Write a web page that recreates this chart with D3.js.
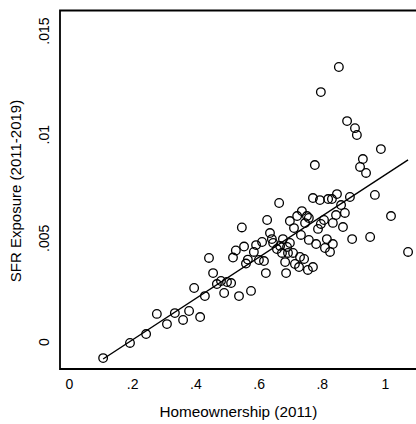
<!DOCTYPE html>
<html>
<head>
<meta charset="utf-8">
<script src="https://cdn.jsdelivr.net/npm/d3@7"></script>
<style>
  html, body { margin: 0; padding: 0; background: #fff; }
  svg { display: block; }
  text { font-family: "Liberation Sans", Arial, Helvetica, sans-serif; fill: #000; }
</style>
</head>
<body>
<script>
// Homeownership share (2011) per area
const homeownership = [
  0.108, 0.193, 0.244, 0.278, 0.310, 0.335, 0.361, 0.380, 0.415, 0.396,
  0.430, 0.443, 0.456, 0.468, 0.481, 0.500, 0.513, 0.491, 0.538, 0.576,
  0.547, 0.554, 0.528, 0.519, 0.566, 0.560, 0.592, 0.585, 0.611, 0.627,
  0.665, 0.636, 0.642, 0.601, 0.617, 0.623, 0.646, 0.658, 0.668, 0.677,
  0.699, 0.690, 0.709, 0.693, 0.674, 0.684, 0.715, 0.728, 0.731, 0.744,
  0.687, 0.756, 0.699, 0.712, 0.722, 0.737, 0.753, 0.759, 0.747, 0.734,
  0.759, 0.772, 0.794, 0.820, 0.832, 0.848, 0.889, 0.968, 0.861, 0.845,
  0.873, 1.019, 0.807, 0.797, 0.835, 0.788, 0.867, 0.782, 0.816, 0.835,
  0.896, 0.953, 0.810, 0.826, 1.073, 0.772, 0.854, 0.797, 0.880, 0.905,
  0.911, 0.987, 0.930, 0.921, 0.940, 0.778
];

// SFR exposure (2011-2019) per area
const sfrExposure = [
  -0.00080, -0.00007, 0.00036, 0.00133, 0.00084, 0.00137, 0.00104, 0.00147, 0.00118, 0.00258,
  0.00219, 0.00403, 0.00330, 0.00277, 0.00292, 0.00287, 0.00282, 0.00234, 0.00219, 0.00244,
  0.00550, 0.00458, 0.00439, 0.00405, 0.00395, 0.00376, 0.00465, 0.00432, 0.00480, 0.00586,
  0.00668, 0.00523, 0.00494, 0.00393, 0.00388, 0.00330, 0.00475, 0.00446, 0.00461, 0.00494,
  0.00475, 0.00456, 0.00427, 0.00427, 0.00427, 0.00383, 0.00374, 0.00359, 0.00408, 0.00398,
  0.00330, 0.00345, 0.00581, 0.00547, 0.00605, 0.00629, 0.00605, 0.00596, 0.00571, 0.00514,
  0.00490, 0.00692, 0.00682, 0.00687, 0.00687, 0.00711, 0.00697, 0.00707, 0.00658, 0.00610,
  0.00620, 0.00605, 0.00586, 0.00567, 0.00572, 0.00543, 0.00552, 0.00470, 0.00494, 0.00470,
  0.00494, 0.00504, 0.00451, 0.00432, 0.00432, 0.00359, 0.01324, 0.01203, 0.01063, 0.01029,
  0.00996, 0.00928, 0.00880, 0.00842, 0.00813, 0.00851
];

// Linear fit: intercept and slope
const fitIntercept = -0.00192;
const fitSlope = 0.00995;

const xTicks = [0, 0.2, 0.4, 0.6, 0.8, 1];
const xTickLabels = ["0", ".2", ".4", ".6", ".8", "1"];
const yTicks = [0, 0.005, 0.01, 0.015];
const yTickLabels = ["0", ".005", ".01", ".015"];

const W = 416, H = 424;
const frame = { left: 60, top: 10.5, right: 420, bottom: 369 };

const svg = d3.select("body").append("svg")
  .attr("width", W).attr("height", H);

const x = d3.scaleLinear().domain([0, 1]).range([69, 385]);
const y = d3.scaleLinear().domain([0, 0.015]).range([341.5, 30.5]);

const points = homeownership.map((h, i) => ({ x: h, y: sfrExposure[i] }));

// fitted line across the observed range
const xMin = d3.min(homeownership), xMax = d3.max(homeownership);
svg.append("line")
  .attr("x1", x(xMin)).attr("y1", y(fitIntercept + fitSlope * xMin))
  .attr("x2", x(xMax)).attr("y2", y(fitIntercept + fitSlope * xMax))
  .attr("stroke", "#000").attr("stroke-width", 1.4);

// hollow markers
svg.append("g").selectAll("circle")
  .data(points)
  .join("circle")
  .attr("cx", d => x(d.x))
  .attr("cy", d => y(d.y))
  .attr("r", 4.3)
  .attr("fill", "none")
  .attr("stroke", "#000")
  .attr("stroke-width", 1.3);

// plot frame (left, top and bottom edges; right edge lies past the canvas)
svg.append("path")
  .attr("d", `M${frame.right},${frame.top}H${frame.left}V${frame.bottom}H${frame.right}`)
  .attr("fill", "none").attr("stroke", "#000").attr("stroke-width", 1.8);

// x axis labels
const xAxis = d3.axisBottom(x).tickValues(xTicks)
  .tickFormat((d, i) => xTickLabels[i]).tickSize(0).tickPadding(0);
const gx = svg.append("g").attr("transform", `translate(0,${frame.bottom})`).call(xAxis);
gx.select(".domain").remove();
gx.selectAll("text")
  .attr("y", 20).attr("dy", null)
  .style("font-size", "14px")
  .style("font-family", "'Liberation Sans', Arial, sans-serif");

// y axis labels, rotated
const yAxis = d3.axisLeft(y).tickValues(yTicks)
  .tickFormat((d, i) => yTickLabels[i]).tickSize(0).tickPadding(0);
const gy = svg.append("g").attr("transform", `translate(${frame.left},0)`).call(yAxis);
gy.select(".domain").remove();
gy.selectAll("text")
  .attr("x", null).attr("dy", null)
  .attr("text-anchor", "middle")
  .attr("transform", "translate(-11,0) rotate(-90)")
  .style("font-size", "14px")
  .style("font-family", "'Liberation Sans', Arial, sans-serif");

// axis titles
svg.append("text")
  .attr("x", 238.5).attr("y", 417)
  .attr("text-anchor", "middle")
  .style("font-size", "15.3px")
  .text("Homeownership (2011)");

svg.append("text")
  .attr("transform", "translate(21,191) rotate(-90)")
  .attr("text-anchor", "middle")
  .style("font-size", "15px")
  .text("SFR Exposure (2011-2019)");
</script>
</body>
</html>
